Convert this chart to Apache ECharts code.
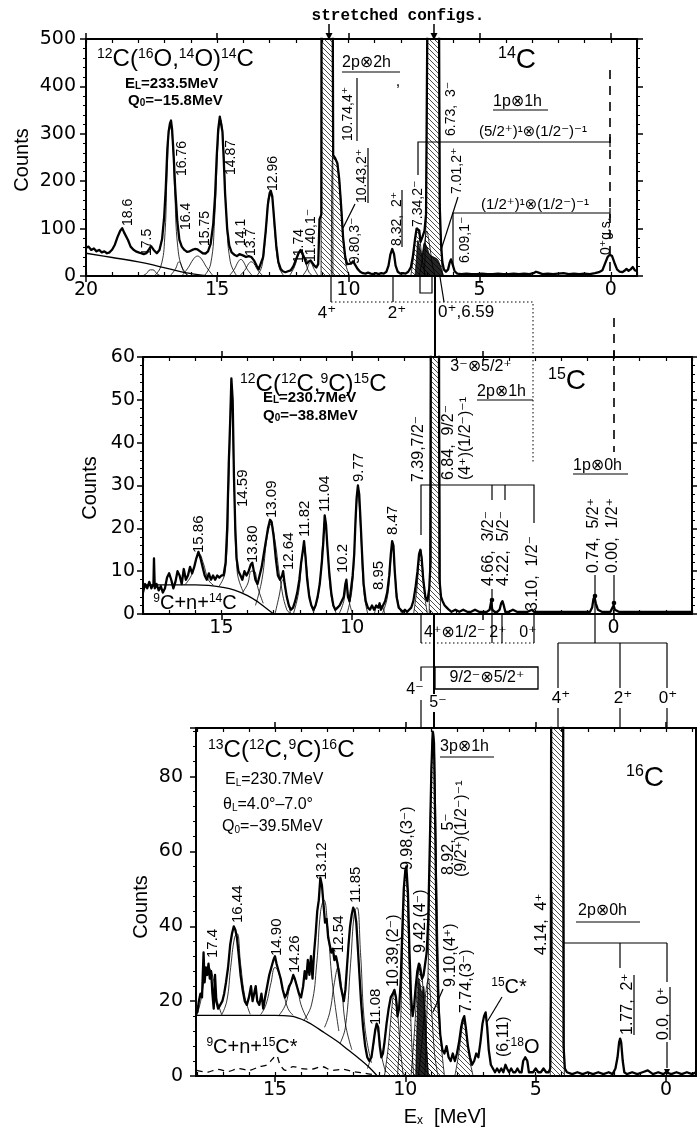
<!DOCTYPE html>
<html><head><meta charset="utf-8">
<script src="https://cdn.jsdelivr.net/npm/echarts@6/dist/echarts.min.js"></script>
<style>html,body{margin:0;padding:0;background:#fff}#c{width:697px;height:1133px}</style>
</head><body><div id="c"></div><script>
// ---------------- DATA (E [MeV], counts) ----------------
const spec14C = [[20.0,60],[19.9,62],[19.8,55],[19.7,58],[19.6,52],[19.5,55],[19.4,50],[19.3,52],[19.2,48],[19.1,50],[19.0,56],[18.9,66],[18.8,82],[18.7,95],[18.62,101],[18.55,92],[18.48,94],[18.4,76],[18.3,62],[18.2,56],[18.1,52],[18.0,50],[17.9,48],[17.8,46],[17.7,48],[17.6,56],[17.52,63],[17.42,55],[17.3,48],[17.2,55],[17.1,78],[17.02,125],[16.96,185],[16.9,268],[16.85,305],[16.8,322],[16.76,328],[16.72,310],[16.66,255],[16.6,185],[16.52,115],[16.44,76],[16.35,62],[16.25,55],[16.15,51],[16.05,52],[15.95,55],[15.85,57],[15.75,56],[15.65,52],[15.55,48],[15.45,47],[15.35,52],[15.25,68],[15.15,110],[15.08,170],[15.02,250],[14.96,310],[14.9,336],[14.86,338],[14.8,305],[14.75,245],[14.7,175],[14.62,100],[14.54,64],[14.45,50],[14.35,45],[14.25,42],[14.15,46],[14.08,48],[14.0,43],[13.9,40],[13.8,42],[13.7,40],[13.6,33],[13.5,22],[13.42,14],[13.35,18],[13.25,40],[13.15,95],[13.07,150],[13.0,175],[12.96,180],[12.9,168],[12.83,120],[12.75,65],[12.67,30],[12.58,15],[12.5,10],[12.4,8],[12.3,10],[12.2,12],[12.1,20],[12.0,34],[11.9,48],[11.82,55],[11.75,54],[11.68,38],[11.6,26],[11.52,30],[11.44,33],[11.38,30],[11.3,22],[11.22,18],[11.15,25],[11.1,120],[11.06,125],[11.03,130],[11.02,620],[10.6,620],[10.58,255],[10.5,248],[10.42,238],[10.35,205],[10.28,150],[10.2,80],[10.12,40],[10.05,25],[9.98,22],[9.9,26],[9.82,31],[9.75,27],[9.65,15],[9.55,9],[9.45,6],[9.35,5],[9.25,7],[9.15,5],[9.05,4],[8.95,6],[8.85,4],[8.75,6],[8.65,5],[8.55,9],[8.47,22],[8.4,45],[8.33,57],[8.26,46],[8.2,22],[8.12,9],[8.02,5],[7.92,6],[7.82,5],[7.72,9],[7.62,18],[7.54,42],[7.46,78],[7.4,100],[7.35,104],[7.3,96],[7.25,72],[7.18,82],[7.1,95],[7.04,130],[6.98,620],[6.55,620],[6.52,150],[6.47,70],[6.42,30],[6.36,14],[6.28,9],[6.2,14],[6.14,28],[6.09,35],[6.03,25],[5.95,10],[5.85,5],[5.7,4],[5.5,5],[5.3,4],[5.1,4],[4.9,5],[4.7,4],[4.5,4],[4.3,5],[4.1,4],[3.9,4],[3.7,5],[3.5,4],[3.3,5],[3.1,4],[2.95,6],[2.85,9],[2.75,7],[2.6,4],[2.4,5],[2.2,4],[2.0,5],[1.8,6],[1.6,4],[1.4,5],[1.2,4],[1.0,5],[0.8,4],[0.6,6],[0.45,8],[0.32,12],[0.22,26],[0.12,40],[0.04,45],[-0.05,42],[-0.14,28],[-0.24,14],[-0.34,9],[-0.44,8],[-0.52,11],[-0.6,15],[-0.68,11],[-0.76,14],[-0.84,19],[-0.92,12],[-1.0,10]];

const bg14C = [[20,48],[19,39],[18,30],[17.2,20],[16.6,12],[16.1,6],[15.6,2],[15.2,0]];
const fits14C = [
  [[17.85,0],[17.7,5],[17.55,13],[17.45,13],[17.3,5],[17.15,0]],
  [[17.4,0],[17.15,20],[17.0,80],[16.9,230],[16.8,315],[16.72,300],[16.62,180],[16.5,60],[16.3,12],[16.1,0]],
  [[16.8,0],[16.6,14],[16.45,30],[16.3,14],[16.1,0]],
  [[16.35,0],[16.1,18],[15.9,36],[15.75,42],[15.6,36],[15.4,18],[15.15,0]],
  [[15.5,0],[15.25,25],[15.1,120],[14.95,300],[14.87,330],[14.78,290],[14.65,130],[14.5,30],[14.25,0]],
  [[14.55,0],[14.35,14],[14.2,30],[14.1,35],[14.0,30],[13.85,14],[13.65,0]],
  [[14.15,0],[13.95,12],[13.8,26],[13.7,30],[13.6,26],[13.45,12],[13.25,0]],
  [[13.5,0],[13.3,20],[13.15,90],[13.0,170],[12.9,165],[12.8,90],[12.65,20],[12.45,0]],
  [[12.25,0],[12.05,20],[11.9,46],[11.78,52],[11.65,32],[11.5,8],[11.35,0]],
  [[11.75,0],[11.6,12],[11.45,28],[11.3,14],[11.15,0]]
];
const hatch14C = [
  [[10.65,0],[10.6,250],[10.5,246],[10.42,236],[10.34,200],[10.26,140],[10.18,70],[10.08,20],[9.95,0]],
  [[7.62,0],[7.52,40],[7.44,85],[7.37,102],[7.3,90],[7.22,50],[7.12,12],[7.05,0]],
  [[7.3,0],[7.2,30],[7.1,70],[7.01,95],[6.92,70],[6.8,25],[6.7,0]]
];
const bars14C = [
  [[11.04,0],[11.03,620],[10.6,620],[10.59,0]],
  [[7.1,0],[7.04,120],[6.98,620],[6.55,620],[6.5,110],[6.42,0]]
];
const dense14C = [[7.46,0],[7.4,40],[7.35,75],[7.28,60],[7.2,45],[7.1,70],[7.0,60],[6.9,45],[6.75,40],[6.6,35],[6.5,22],[6.42,8],[6.36,0]];

const spec15C = [[18.0,5],[17.92,7],[17.84,6],[17.76,7.5],[17.68,6],[17.6,7],[17.58,13],[17.55,6],[17.48,7],[17.4,5.5],[17.32,6.5],[17.24,5],[17.16,6],[17.08,8.5],[17.0,9.5],[16.92,8],[16.84,6],[16.76,7.5],[16.68,10],[16.6,9],[16.52,7],[16.44,10.5],[16.36,8],[16.28,9],[16.2,11],[16.12,9.5],[16.04,11],[15.96,13],[15.88,14.5],[15.8,13],[15.72,11],[15.64,9],[15.56,8],[15.48,9.5],[15.4,8],[15.32,9],[15.24,8],[15.16,9],[15.08,8.5],[15.0,9],[14.92,9],[14.84,12],[14.78,20],[14.72,35],[14.66,46],[14.62,55],[14.57,50],[14.52,32],[14.47,20],[14.42,13],[14.35,10],[14.27,9],[14.2,8],[14.12,10],[14.04,9],[13.96,10],[13.88,11.5],[13.82,12],[13.76,10],[13.7,8],[13.62,7],[13.54,9],[13.46,11],[13.38,14],[13.3,17],[13.22,20],[13.14,22],[13.08,21.5],[13.0,18],[12.92,13],[12.84,9],[12.76,8],[12.68,9],[12.64,10],[12.58,7],[12.5,4],[12.42,2],[12.34,1],[12.26,1.5],[12.18,3],[12.1,5],[12.02,8],[11.95,12],[11.88,15],[11.84,17],[11.78,13],[11.72,8],[11.64,4],[11.56,2],[11.48,1],[11.4,2],[11.32,4],[11.24,7],[11.16,12],[11.1,17],[11.05,23],[11.0,21],[10.95,16],[10.88,10],[10.8,5],[10.72,2],[10.64,1],[10.56,1.5],[10.48,2],[10.4,3],[10.32,4],[10.26,7],[10.22,8],[10.16,4],[10.1,3],[10.04,6],[9.98,9],[9.92,14],[9.87,22],[9.83,27],[9.78,30],[9.73,28],[9.68,22],[9.62,14],[9.56,7],[9.48,3],[9.4,1.5],[9.32,1],[9.24,2],[9.16,1],[9.08,2],[9.0,1.5],[8.95,2.5],[8.9,1],[8.82,2],[8.74,3],[8.66,5],[8.58,9],[8.52,14],[8.47,17],[8.42,16],[8.37,10],[8.3,4],[8.22,1.5],[8.14,1],[8.06,0.5],[7.98,1],[7.9,0.5],[7.82,1],[7.74,1.5],[7.66,3],[7.58,6],[7.5,10],[7.44,14],[7.39,15],[7.34,13],[7.28,8],[7.2,4],[7.12,3],[7.05,6],[7.0,12],[6.99,70],[6.68,70],[6.66,8],[6.6,4],[6.54,3],[6.46,2],[6.38,1.5],[6.3,1],[6.2,0.5],[6.05,1],[5.9,0.5],[5.75,1],[5.6,0.5],[5.45,0.5],[5.3,1],[5.15,0.5],[5.0,0.5],[4.85,0.5],[4.74,1],[4.68,3],[4.64,1],[4.55,0.5],[4.45,0.5],[4.36,1],[4.3,2.5],[4.25,3],[4.2,2],[4.14,0.5],[4.0,0.5],[3.85,1],[3.7,0.5],[3.5,0.5],[3.3,0.5],[3.12,1],[3.05,0.5],[2.85,0.5],[2.6,0.5],[2.35,0.5],[2.1,0.5],[1.85,0.5],[1.6,0.5],[1.35,0.5],[1.1,0.5],[0.9,0.5],[0.82,1.5],[0.77,3.5],[0.73,4],[0.68,2.5],[0.6,1],[0.45,0.5],[0.3,0.5],[0.12,0.5],[0.04,1.5],[0.0,2],[-0.05,1],[-0.2,0.5],[-0.5,0.5],[-0.8,0.5],[-1.1,0.5],[-1.4,0.5],[-1.7,0.5],[-2.0,0.5],[-2.3,0.5],[-2.6,0.5],[-3.0,0.5]];

const bg15C = [[18,6.8],[17,6.8],[16,6.8],[15.5,6.7],[15.0,6.3],[14.5,5.6],[14.0,4.3],[13.6,2.8],[13.3,1.4],[13.0,0]];
const fits15C = [
  [[16.4,6.8],[16.15,9],[15.95,13],[15.85,14],[15.7,12],[15.5,8],[15.3,6.7]],
  [[15.1,6.4],[14.85,10],[14.72,30],[14.62,52],[14.52,32],[14.4,10],[14.15,5]],
  [[14.2,5],[14.0,7],[13.85,10],[13.75,10],[13.6,6],[13.4,2.5]],
  [[13.7,2],[13.45,8],[13.25,18],[13.1,21],[12.95,17],[12.75,8],[12.5,1],[12.3,0]],
  [[12.95,0],[12.8,4],[12.65,8],[12.5,4],[12.35,0]],
  [[12.25,0],[12.05,5],[11.92,13],[11.84,16],[11.74,11],[11.6,3],[11.45,0]],
  [[11.5,0],[11.28,5],[11.12,17],[11.04,22],[10.95,16],[10.8,4],[10.6,0]],
  [[10.5,0],[10.32,3],[10.22,7],[10.12,3],[9.98,0]],
  [[10.2,0],[10.0,6],[9.88,20],[9.78,28],[9.68,20],[9.55,5],[9.4,0]],
  [[9.15,0],[9.0,2],[8.9,2],[8.75,0]],
  [[8.85,0],[8.65,4],[8.53,12],[8.46,16],[8.38,11],[8.25,3],[8.1,0]]
];
const hatch15C = [
  [[7.65,0],[7.52,6],[7.44,13],[7.38,15],[7.32,12],[7.22,4],[7.12,0]]
];
const bars15C = [
  [[7.05,0],[6.99,70],[6.68,70],[6.62,0]]
];

const spec16C = [[18.03,18],[17.98,17],[17.92,20],[17.86,22],[17.8,21],[17.74,33],[17.7,25],[17.65,29],[17.6,27],[17.55,30],[17.5,26],[17.45,28],[17.4,22],[17.35,18],[17.3,27],[17.25,20],[17.18,18],[17.1,19],[17.02,20],[16.95,22],[16.88,25],[16.8,29],[16.72,35],[16.65,38],[16.58,40],[16.52,39],[16.46,37],[16.4,33],[16.32,27],[16.24,23],[16.16,20],[16.08,19],[16.0,21],[15.92,24],[15.86,20],[15.8,22],[15.74,24],[15.68,20],[15.6,19],[15.52,22],[15.45,18],[15.38,21],[15.3,24],[15.22,27],[15.14,29],[15.06,31],[15.0,32],[14.94,30],[14.86,28],[14.78,26],[14.7,23],[14.62,21],[14.54,22],[14.46,24],[14.38,25],[14.3,27],[14.24,26],[14.16,24],[14.08,22],[14.0,21],[13.92,24],[13.86,28],[13.8,26],[13.74,31],[13.68,27],[13.62,32],[13.56,26],[13.5,33],[13.44,38],[13.38,44],[13.32,47],[13.26,53],[13.2,51],[13.14,46],[13.08,41],[13.02,42],[12.96,37],[12.9,35],[12.84,33],[12.78,34],[12.72,31],[12.66,32],[12.6,30],[12.54,27],[12.48,24],[12.42,22],[12.36,20],[12.3,23],[12.24,29],[12.18,35],[12.12,40],[12.06,43],[12.0,45],[11.94,44],[11.88,41],[11.82,34],[11.76,27],[11.7,20],[11.62,13],[11.54,8],[11.46,5],[11.38,4],[11.3,5],[11.22,9],[11.16,12],[11.1,14],[11.04,13],[10.98,8],[10.92,5],[10.86,6],[10.8,9],[10.72,14],[10.64,18],[10.56,21],[10.48,22],[10.42,23],[10.36,21],[10.3,16],[10.24,18],[10.18,25],[10.12,38],[10.06,50],[10.0,55],[9.96,56],[9.9,49],[9.84,33],[9.78,21],[9.72,16],[9.66,19],[9.6,24],[9.54,28],[9.48,30],[9.42,28],[9.36,26],[9.3,27],[9.24,30],[9.18,33],[9.12,42],[9.06,62],[9.0,82],[8.95,92],[8.9,89],[8.85,65],[8.8,38],[8.74,20],[8.66,11],[8.58,7],[8.5,6],[8.42,8],[8.34,5],[8.26,4],[8.18,6],[8.1,4],[8.02,6],[7.94,9],[7.86,13],[7.8,15],[7.74,16],[7.68,13],[7.6,8],[7.52,5],[7.44,3],[7.36,4],[7.28,6],[7.2,5],[7.12,9],[7.04,14],[6.98,16],[6.92,17],[6.86,13],[6.8,7],[6.72,3],[6.64,2],[6.56,1],[6.48,2],[6.4,1],[6.32,2],[6.24,1],[6.16,3],[6.1,2],[6.02,1],[5.94,2],[5.86,1],[5.78,1],[5.7,2],[5.62,1],[5.54,1],[5.48,4],[5.4,5],[5.32,4],[5.26,1],[5.18,1],[5.1,1],[5.0,2],[4.9,1],[4.8,1],[4.7,2],[4.6,1],[4.5,1],[4.44,2],[4.42,20],[4.4,130],[3.95,130],[3.93,8],[3.88,2],[3.8,1],[3.6,0.5],[3.4,1],[3.2,0.5],[3.0,1],[2.8,0.5],[2.6,1],[2.4,0.5],[2.2,1],[2.05,0.5],[1.94,2],[1.86,5],[1.8,9],[1.76,10],[1.72,9],[1.66,4],[1.6,1],[1.5,0.5],[1.3,1],[1.1,0.5],[0.9,1],[0.7,1.5],[0.5,0.5],[0.3,1],[0.1,0.5],[0.0,1],[-0.2,0.5],[-0.4,1],[-0.6,0.5],[-0.8,1],[-1.0,0.5],[-1.15,1]];

const bg16C = [[18,16.2],[16,16.2],[15,16.2],[14.4,16],[13.8,14.6],[13.2,12],[12.6,9.2],[12.2,7],[11.8,4.8],[11.4,2.4],[11.1,0.2]];
const dash16C = [[18,1.5],[17.6,1],[17.2,1.8],[16.8,1.2],[16.4,2],[16,1.5],[15.6,2.5],[15.3,3],[15.1,4.5],[14.95,5.5],[14.8,3],[14.6,1.5],[14.3,2.5],[14,2],[13.6,1.8],[13.2,2.5],[12.8,1.5],[12.4,1.8],[12,1.2],[11.6,0.8],[11.2,0.3]];
const fits16C = [
  [[18.0,16.2],[17.85,20],[17.7,26],[17.55,29],[17.4,27],[17.25,21],[17.05,16.5]],
  [[17.05,16.3],[16.85,20],[16.7,29],[16.55,37],[16.45,38],[16.32,30],[16.15,21],[15.95,16.5]],
  [[15.55,16.4],[15.35,19],[15.15,25],[15.0,29],[14.88,28],[14.7,23],[14.5,18],[14.3,16.2]],
  [[14.85,16.2],[14.6,19],[14.42,24],[14.28,26],[14.15,24],[14.0,19],[13.75,15]],
  [[13.9,14.8],[13.6,19],[13.4,30],[13.25,44],[13.12,47],[12.98,40],[12.8,25],[12.55,12]],
  [[13.1,13],[12.9,17],[12.72,25],[12.58,29],[12.45,24],[12.3,14],[12.05,7]],
  [[12.5,8.8],[12.3,13],[12.1,30],[11.95,44],[11.85,45],[11.72,33],[11.55,13],[11.3,3.5]],
  [[11.45,2],[11.25,7],[11.12,13],[11.02,11],[10.9,5],[10.75,1]]
];
const hatch16C = [
  [[10.8,0],[10.65,8],[10.52,18],[10.42,23],[10.32,19],[10.2,8],[10.08,0]],
  [[10.3,0],[10.18,15],[10.08,42],[10.0,55],[9.93,50],[9.85,28],[9.75,8],[9.68,0]],
  [[9.78,0],[9.65,12],[9.52,26],[9.44,30],[9.36,27],[9.25,14],[9.12,0]],
  [[9.5,0],[9.35,10],[9.22,22],[9.12,26],[9.0,18],[8.88,6],[8.75,0]],
  [[9.25,0],[9.12,30],[9.04,70],[8.97,90],[8.92,92],[8.86,80],[8.78,45],[8.66,12],[8.5,0]],
  [[8.1,0],[7.95,6],[7.82,13],[7.74,15],[7.65,11],[7.52,4],[7.4,0]]
];
const bars16C = [
  [[4.44,0],[4.4,130],[3.95,130],[3.9,0]]
];
const dense16C = [[9.6,0],[9.55,14],[9.48,26],[9.42,24],[9.36,22],[9.3,24],[9.24,18],[9.18,8],[9.12,0]];

// tick labels per panel
const xLabels14C = [0,5,10,15,20];
const xLabels15C = [0,10,15];
const xLabels16C = [0,5,10,15];

// ---------------- CHART ----------------
const FONT = "'Liberation Sans', Arial, 'DejaVu Sans', sans-serif";
const TFONT = "'DejaVu Sans', sans-serif";

const hc = document.createElement('canvas'); hc.width = 5; hc.height = 5;
(function(){const g = hc.getContext('2d'); g.strokeStyle='#111'; g.lineWidth=0.75; g.beginPath();
 g.moveTo(0,0); g.lineTo(5,5); g.moveTo(-1,4); g.lineTo(1,6); g.moveTo(4,-1); g.lineTo(6,1); g.stroke();})();
const HATCH = {image: hc, repeat: 'repeat'};

const panels = [
  {min:-1, max:20, majors:[0,5,10,15,20], labels:xLabels14C, ymax:500, yint:100, ymargin:10},
  {min:-3, max:18, majors:[0,5,10,15], labels:xLabels15C, ymax:60, yint:10, ymargin:8},
  {min:-1.15, max:18.03, majors:[0,5,10,15], labels:xLabels16C, ymax:93, yint:20, ymargin:13}
];
const grids = [
  {left:86, top:39, width:551, height:237},
  {left:143, top:357, width:549, height:257},
  {left:196, top:728, width:500, height:348}
].map(g => Object.assign(g, {containLabel:false, outerBoundsMode:'none'}));

const xAxes = [], yAxes = [];
panels.forEach((p, i) => {
  const minors = []; for (let v = Math.ceil(p.min); v <= Math.floor(p.max); v++) minors.push(v);
  const base = {gridIndex:i, type:'value', min:p.min, max:p.max, inverse:true, splitLine:{show:false}};
  const line = {show:true, onZero:false, lineStyle:{color:'#000', width:2}};
  xAxes.push(Object.assign({}, base, {position:'bottom', axisLine:line,
    axisTick:{show:true, customValues:p.majors, length:6, inside:false, lineStyle:{color:'#000', width:1.5}},
    axisLabel:{show:true, customValues:p.labels, margin:5, fontSize:19, fontFamily:TFONT, color:'#000'}}));
  xAxes.push(Object.assign({}, base, {position:'bottom', axisLine:{show:false, onZero:false},
    axisTick:{show:true, customValues:minors, length:4, inside:true, lineStyle:{color:'#000', width:1.2}},
    axisLabel:{show:false}}));
  xAxes.push(Object.assign({}, base, {position:'top', axisLine:line,
    axisTick:{show:true, customValues:p.majors, length:6, inside:false, lineStyle:{color:'#000', width:1.5}},
    axisLabel:{show:false}}));
  xAxes.push(Object.assign({}, base, {position:'top', axisLine:{show:false, onZero:false},
    axisTick:{show:true, customValues:minors, length:4, inside:true, lineStyle:{color:'#000', width:1.2}},
    axisLabel:{show:false}}));
  const yb = {gridIndex:i, type:'value', min:0, max:p.ymax, interval:p.yint, splitLine:{show:false},
    axisLine:{show:true, onZero:false, lineStyle:{color:'#000', width:2}},
    axisTick:{show:true, length:6, lineStyle:{color:'#000', width:1.5}},
    minorTick:{show:true, splitNumber:5, length:3, lineStyle:{color:'#000', width:1}},
    minorSplitLine:{show:false}};
  yAxes.push(Object.assign({}, yb, {position:'left',
    axisLabel:{show:true, margin:p.ymargin, fontSize:19, fontFamily:TFONT, color:'#000',
      formatter: v => (Math.abs(v % p.yint) < 1e-9 ? String(v) : '')}}));
  yAxes.push(Object.assign({}, yb, {position:'right', axisLabel:{show:false}}));
});

const S = [];
function add(data, p, opt) {
  S.push(Object.assign({type:'line', xAxisIndex:p*4, yAxisIndex:p*2, data, symbol:'none', silent:true,
    clip:true, animation:false, lineStyle:{color:'#000', width:1}, z:3}, opt));
}
const sets = [
  {spec:spec14C, bg:bg14C, fits:fits14C, hatch:hatch14C, bars:bars14C, dense:dense14C},
  {spec:spec15C, bg:bg15C, fits:fits15C, hatch:hatch15C, bars:bars15C, dense:null},
  {spec:spec16C, bg:bg16C, fits:fits16C, hatch:hatch16C, bars:bars16C, dense:dense16C}
];
sets.forEach((d, p) => {
  d.hatch.forEach(h => add(h, p, {smooth:0.3, areaStyle:{color:HATCH, opacity:1}, lineStyle:{color:'#000', width:0.8}, z:2}));
  d.bars.forEach(h => add(h, p, {smooth:false, areaStyle:{color:HATCH, opacity:1}, lineStyle:{color:'#000', width:0.8}, z:2}));
  if (d.dense) add(d.dense, p, {smooth:0.3, areaStyle:{color:'#000', opacity:0.85}, lineStyle:{color:'#000', width:0.8}, z:2});
  d.fits.forEach(f => add(f, p, {smooth:0.45, lineStyle:{color:'#000', width:0.8}, z:3}));
  add(d.bg, p, {smooth:0.4, lineStyle:{color:'#000', width:1.3}, z:3});
  add(d.spec, p, {smooth:false, lineStyle:{color:'#000', width:2.3, join:'round'}, z:5});
});
add(dash16C, 2, {smooth:0.3, lineStyle:{color:'#000', width:1.3, type:[6,5]}, z:3});

// ---------------- ANNOTATIONS ----------------
const G = [];
function rich(sup, sub, bold) {
  const w = bold ? 'bold' : 'normal';
  return { s:{fontSize:sup, fontFamily:FONT, fontWeight:w, verticalAlign:'top', lineHeight:sup},
           b:{fontSize:sub, fontFamily:FONT, fontWeight:w, verticalAlign:'bottom', lineHeight:sub} };
}
function txt(x, y, s, size, o) {
  o = o || {};
  G.push({type:'text', x, y, z:100, rotation:o.rot || 0, silent:true,
    style:{text:s, fill:'#000', fontSize:size, fontFamily:o.family || FONT, fontWeight:o.weight || 'normal',
      align:o.align || 'center', verticalAlign:o.va || 'middle', rich:o.rich,
      backgroundColor:o.bg, padding:o.pad}});
}
function rtxt(x, yb, s, size) { txt(x, yb, s, size || 14, {rot:Math.PI/2, align:'left'}); }
function ln(pts, w, dash) {
  G.push({type:'polyline', z:90, silent:true, shape:{points:pts},
    style:{stroke:'#000', fill:null, lineWidth:w || 1.2, lineDash:dash || null}});
}
function tri(x, y, s) { G.push({type:'polygon', z:90, silent:true, shape:{points:[[x-s,y-2*s],[x+s,y-2*s],[x,y]]}, style:{fill:'#000'}}); }
function dot(x, y) { G.push({type:'circle', z:90, silent:true, shape:{cx:x, cy:y, r:2.3}, style:{fill:'#000'}}); }

// --- top panel
txt(398, 16, 'stretched configs.', 16, {family:"'Liberation Mono','DejaVu Sans Mono',monospace", weight:'bold'});
ln([[329,24],[329,36]], 1.5); tri(329, 40, 3.5);
ln([[434,24],[434,36]], 1.5); tri(434, 40, 3.5);
txt(97, 59, '{s|12}C({s|16}O,{s|14}O){s|14}C', 24, {align:'left', rich:rich(14,10)});
txt(125, 84, 'E{b|L}=233.5MeV', 15, {align:'left', weight:'bold', rich:rich(10,10,true)});
txt(128, 101, 'Q{b|0}=\u221215.8MeV', 15, {align:'left', weight:'bold', rich:rich(10,10,true)});
txt(517, 60, '{s|14}C', 28, {rich:rich(16,10)});
txt(342, 63, '2p\u22972h', 16, {align:'left'});
ln([[342,72],[400,72]], 1.2);
txt(398, 82, ',', 16);
[[128,226,'18.6'],[147,256,'17.5'],[182,176,'16.76'],[186,230,'16.4'],[205,246,'15.75'],[231,175,'14.87'],
 [241,246,'14.1'],[251,256,'13.7'],[273,191,'12.96'],[299,263,'11.74'],[311,262,'11.40,1\u207B'],
 [348,141,'10.74,4\u207A'],[362,203,'10.43,2\u207A'],[355,264,'9.80,3\u207B'],[397,246,'8.32,  2\u207A'],
 [418,227,'7.34,2\u207B'],[451,136,'6.73,  3\u207B'],[457,194,'7.01,2\u207A'],[465,263,'6.09,1\u207B'],[606,255,'0\u207Ag.s.']]
 .forEach(a => rtxt(a[0], a[1], a[2], 14));
ln([[357,78],[357,141]]); ln([[368,148],[368,203]]); ln([[402,190],[402,247]]);
ln([[355,204],[343,228]]); ln([[458,197],[441,250]]);
ln([[418,175],[418,142],[610,142]]); ln([[610,137],[610,147]]);
txt(533, 132, '(5/2\u207A)\u00B9\u2297(1/2\u207B)\u207B\u00B9', 15);
ln([[453,267],[453,213],[610,213]]); ln([[610,208],[610,218]]);
txt(535, 205, '(1/2\u207A)\u00B9\u2297(1/2\u207B)\u207B\u00B9', 15);
txt(493, 102, '1p\u22971h', 16, {align:'left'});
ln([[493,110],[548,110]]);
ln([[610,70],[610,272]], 1.6, [9,7]);
ln([[614,318],[614,452]], 1.6, [9,7]);

// --- between top and middle
ln([[331,277],[331,302]]); ln([[393,277],[393,302]]);
ln([[331,302],[533,302],[533,462]], 1, [1.5,2.5]);
txt(327, 313, '4\u207A', 17); txt(397, 313, '2\u207A', 17);
ln([[420,277],[420,293],[432,293],[432,277]]);
ln([[435,277],[435,357]], 2);
ln([[440,277],[444,302]]);
txt(438, 312, '0\u207A,6.59', 17, {align:'left'});

// --- middle panel
txt(240, 384, '{s|12}C({s|12}C,{s|9}C){s|15}C', 24, {align:'left', rich:rich(14,10)});
txt(263, 398, 'E{b|L}=230.7MeV', 15, {align:'left', weight:'bold', rich:rich(10,10,true)});
txt(263, 416, 'Q{b|0}=\u221238.8MeV', 15, {align:'left', weight:'bold', rich:rich(10,10,true)});
txt(567, 381, '{s|15}C', 28, {rich:rich(16,10)});
txt(481, 367, '3\u207B\u22975/2\u207A', 16);
txt(477, 392, '2p\u22971h', 16, {align:'left'});
ln([[477,400],[533,400]]);
txt(573, 466, '1p\u22970h', 16, {align:'left'});
ln([[573,474],[628,474]]);
[[199,553,'15.86'],[243,507,'14.59'],[253,563,'13.80'],[272,518,'13.09'],[289,570,'12.64'],[305,537,'11.82'],
 [325,512,'11.04'],[343,573,'10.2'],[359,482,'9.77'],[379,590,'8.95'],[393,535,'8.47']]
 .forEach(a => rtxt(a[0], a[1], a[2], 15));
[[419,482,'7.39,7/2\u207B'],[449,480,'6.84,  9/2\u207B'],[466,480,'(4\u207A)(1/2\u207B)\u207B\u00B9'],
 [489,586,'4.66,  3/2\u207B'],[504,586,'4.22,  5/2\u207B'],[533,611,'3.10,  1/2\u207B'],
 [594,573,'0.74,  5/2\u207A'],[613,573,'0.00,  1/2\u207A']]
 .forEach(a => rtxt(a[0], a[1], a[2], 16));
ln([[421,535],[421,485],[534,485],[534,523]]);
ln([[492,485],[492,500]]); ln([[505,485],[505,500]]);
ln([[492,589],[492,613]]); dot(492,600);
ln([[595,575],[595,613]]); dot(595,596);
ln([[614,575],[614,613]]); dot(614,603);
txt(195, 603, '{s|9}C+n+{s|14}C', 20, {rich:rich(12,10)});

// --- between middle and bottom
ln([[421,614],[421,643]]); ln([[492,614],[492,643]]); ln([[502,614],[502,643]]); ln([[534,614],[534,643]]);
ln([[421,643],[534,643]], 1, [1.5,2.5]);
txt(424, 633, '4\u207A\u22971/2\u207B', 16, {align:'left'});
txt(498, 633, '2\u207A', 16); txt(528, 633, '0\u207A', 16);
ln([[434,614],[434,694]], 2); ln([[434,712],[434,728]], 2);
G.push({type:'rect', z:91, silent:true, shape:{x:435, y:667, width:103, height:22}, style:{fill:'#fff', stroke:'#000', lineWidth:1.3}});
txt(487, 678, '9/2\u207B\u22975/2\u207A', 16);
ln([[435,667],[421,667],[421,681]]); ln([[421,700],[421,728]]);
txt(415, 690, '4\u207B', 16); txt(438, 703, '5\u207B', 16);
ln([[595,614],[595,643]]);
ln([[558,643],[667,643]]);
[558,620,667].forEach(x => { ln([[x,643],[x,688]]); ln([[x,708],[x,728]]); });
txt(561, 698, '4\u207A', 17); txt(623, 698, '2\u207A', 17); txt(668, 698, '0\u207A', 17);

// --- bottom panel
txt(208, 750, '{s|13}C({s|12}C,{s|9}C){s|16}C', 24, {align:'left', rich:rich(14,10)});
txt(225, 780, 'E{b|L}=230.7MeV', 16, {align:'left', rich:rich(10,10)});
txt(223, 805, '\u03B8{b|L}=4.0\u00B0\u20137.0\u00B0', 16, {align:'left', rich:rich(10,10)});
txt(222, 827, 'Q{b|0}=\u221239.5MeV', 16, {align:'left', rich:rich(10,10)});
txt(645, 778, '{s|16}C', 28, {rich:rich(16,10)});
txt(440, 747, '3p\u22971h', 16, {align:'left'});
ln([[440,757],[494,757]]);
txt(578, 911, '2p\u22970h', 16, {align:'left'});
ln([[576,922],[640,922]]);
ln([[563,943],[667,943]]); ln([[620,943],[620,968]]); ln([[667,943],[667,982]]);
[[213,958,'17.4'],[238,923,'16.44'],[277,956,'14.90'],[295,973,'14.26'],[322,880,'13.12'],[339,953,'12.54'],
 [356,903,'11.85'],[376,1025,'11.08']].forEach(a => rtxt(a[0], a[1], a[2], 15));
[[394,987,'10.39,(2\u207B)'],[408,870,'9.98,(3\u207B)'],[421,953,'9.42,(4\u207B)'],[449,875,'8.92,  5\u207B'],
 [462,877,'(9/2\u207A)(1/2\u207B)\u207B\u00B9'],[451,987,'9.10,(4\u207A)'],[467,1013,'7.74,(3\u207B)'],
 [504,1057,'(6,11)'],[542,955,'4.14,  4\u207A'],[628,1035,'1.77,  2\u207A'],[664,1040,'0.0,  0\u207A']]
 .forEach(a => rtxt(a[0], a[1], a[2], 16));
ln([[552,893],[552,960]]); ln([[634,975],[634,1035]]); ln([[670,987],[670,1040]]);
ln([[667,1042],[667,1068]]); tri(667, 1075, 3);
ln([[443,989],[433,1012]]);
txt(509, 987, '{s|15}C*', 20, {rich:rich(12,10)});
ln([[502,997],[487,1022]]);
txt(525, 1047, '{s|18}O', 20, {rich:rich(12,10)});
txt(252, 1047, '{s|9}C+n+{s|15}C*', 20, {rich:rich(12,10)});
txt(445, 1117, 'E{b|x}  [MeV]', 20, {rich:rich(12,12)});

// axis names
txt(22, 160, 'Counts', 20, {rot:Math.PI/2});
txt(90, 488, 'Counts', 20, {rot:Math.PI/2});
txt(141, 907, 'Counts', 20, {rot:Math.PI/2});

const chart = echarts.init(document.getElementById('c'), null, {renderer:'canvas', width:697, height:1133});
chart.setOption({
  animation:false, backgroundColor:'#fff',
  grid:grids, xAxis:xAxes, yAxis:yAxes, series:S,
  graphic:{elements:G}
});
</script></body></html>
